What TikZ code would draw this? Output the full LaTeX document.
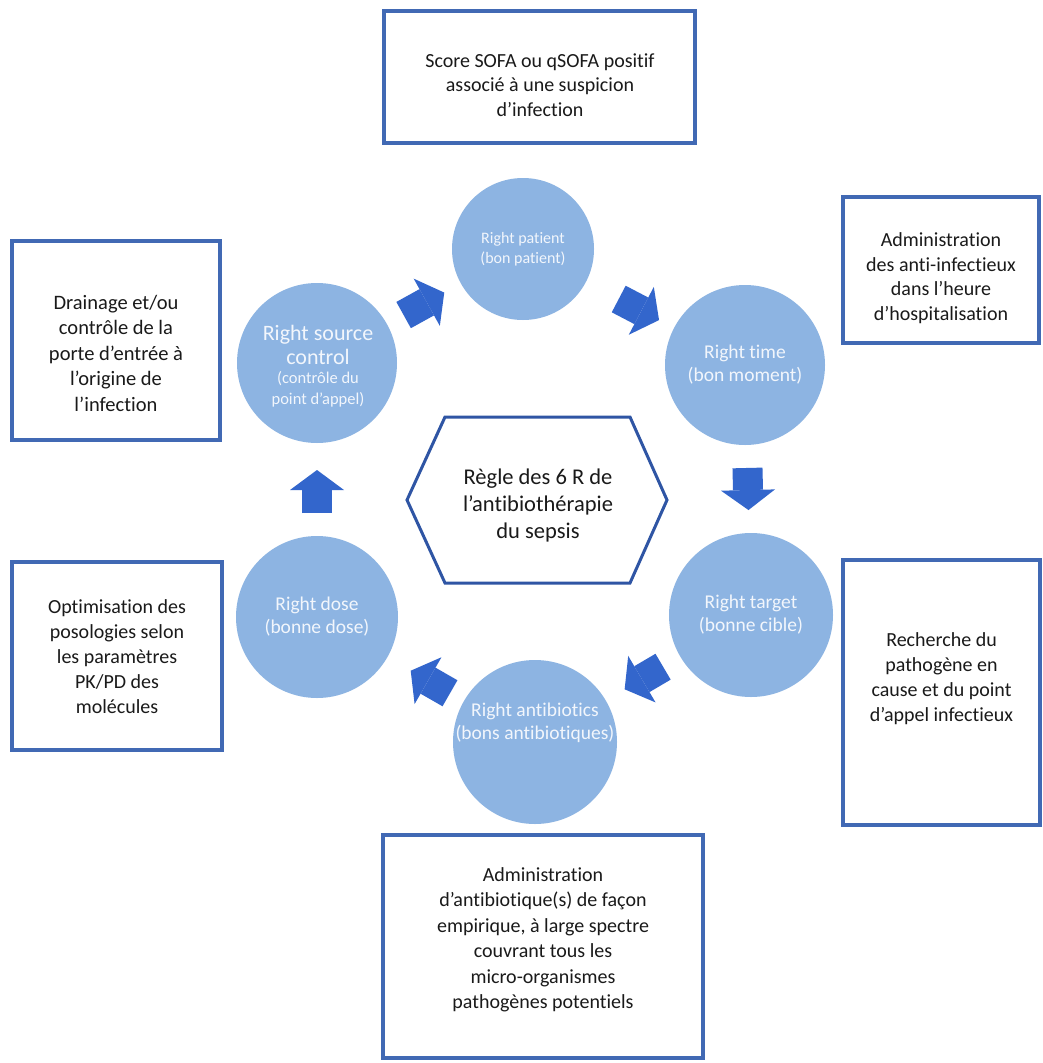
\documentclass[tikz,border=0pt]{standalone}
\usepackage{fontspec}
\setmainfont{Carlito}[Ligatures={TeX,NoCommon}]
\usetikzlibrary{arrows.meta,calc}
\definecolor{circblue}{HTML}{8DB4E2}
\definecolor{arrblue}{HTML}{3366CC}
\definecolor{boxblue}{HTML}{4169B4}
\definecolor{hexblue}{HTML}{2F55A4}
\definecolor{circtext}{HTML}{F2F6FC}
\definecolor{boxtextc}{HTML}{1A1A1A}
\tikzset{
  infobox/.style={draw=boxblue, line width=3.5pt, fill=white, inner sep=0pt},
  boxtext/.style={align=center, text=boxtextc, font=\fontsize{20}{25}\selectfont, inner sep=0pt},
  rcircle/.style={circle, fill=circblue, draw=none, align=center, text=circtext, inner sep=0pt, outer sep=0pt},
  ctext/.style={font=\fontsize{19.5}{23}\selectfont},
  circlabel/.style={align=center, text=circtext, inner sep=0pt},
  flowarrow/.style={draw=arrblue, line width=30pt, -{Triangle[width=54pt,length=20pt,line width=0pt]}},
}
\begin{document}
\begin{tikzpicture}[x=1pt,y=-1pt]
\useasboundingbox (0,0) rectangle (1042,1063);
\fill[white] (0,0) rectangle (1042,1063);

% info boxes
\node[infobox, minimum width=311pt, minimum height=132pt] (btop) at (539.5,77) {};
\node[boxtext, font=\fontsize{20}{24.5}\selectfont] (ttop) at (540,85) {Score SOFA ou qSOFA positif\\associé à une suspicion\\d’infection};

\node[infobox, minimum width=208pt, minimum height=199pt] (bleft) at (116,340.5) {};
\node[boxtext, font=\fontsize{20.5}{25.5}\selectfont] (tleft) at (116,353) {Drainage et/ou\\contrôle de la\\porte d’entrée à\\l’origine de\\l’infection};

\node[infobox, minimum width=196pt, minimum height=146pt] (bright) at (941,270) {};
\node[boxtext, font=\fontsize{20}{24.5}\selectfont] (tright) at (941,278) {Administration\\des anti-infectieux\\dans l’heure\\d’hospitalisation};

\node[infobox, minimum width=197pt, minimum height=265pt] (brbot) at (941.5,692.5) {};
\node[boxtext] (trbot) at (941.5,679) {Recherche du\\pathogène en\\cause et du point\\d’appel infectieux};

\node[infobox, minimum width=210pt, minimum height=188pt] (blbot) at (117,656) {};
\node[boxtext] (tlbot) at (117,657) {Optimisation des\\posologies selon\\les paramètres\\PK/PD des\\molécules};

\node[infobox, minimum width=320pt, minimum height=223pt] (bbot) at (543,946.5) {};
\node[boxtext, font=\fontsize{20}{25.5}\selectfont] (tbot) at (543,940) {Administration\\d’antibiotique(s) de façon\\empirique, à large spectre\\couvrant tous les\\micro-organismes\\pathogènes potentiels};

% circles
\node[rcircle, minimum size=142pt, font=\fontsize{16}{20}\selectfont] (patient) at (523,249) {Right patient\\(bon patient)};
\node[rcircle, minimum size=160pt, ctext] (time) at (745,365) {Right time\\(bon moment)};
\node[rcircle, minimum size=164pt, ctext] (target) at (751,615) {Right target\\(bonne cible)};
\node[rcircle, minimum size=164pt] (antib) at (535,742) {};
\node[circlabel, font=\fontsize{19.5}{22.5}\selectfont] (antibtext) at (535,723) {Right antibiotics\\(bons antibiotiques)};
\node[rcircle, minimum size=162pt, ctext] (dose) at (317,617) {Right dose\\(bonne dose)};
\node[rcircle, minimum size=160pt] (source) at (317,363) {};
\node[circlabel, font=\fontsize{22}{24}\selectfont] (sourcetext) at (318,366)
  {Right source\\control\\[-5pt]\fontsize{16.5}{19}\selectfont (contrôle du\\[-3pt]\fontsize{16.5}{19}\selectfont point d’appel)};

% hexagon
\draw[hexblue, line width=3pt, fill=white] (407,500) -- (445,417) -- (630,417) -- (667,500) -- (630,583) -- (445,583) -- cycle;
\node[align=center, inner sep=0pt, font=\fontsize{22.5}{27}\selectfont, text=boxtextc] (hex) at (538,505) {Règle des 6 R de\\l’antibiothérapie\\du sepsis};

% block arrows
\draw[flowarrow, shorten <=19pt, shorten >=19pt] (source) -- (patient);
\draw[flowarrow, shorten <=37pt, shorten >=17pt] (patient) -- (time);
\draw[flowarrow, shorten <=23pt, shorten >=23pt] (time) -- (target);
\draw[flowarrow, shorten <=20pt, shorten >=22pt] (target) -- (antib);
\draw[flowarrow, shorten <=16pt, shorten >=27pt] (antib) -- (dose);
\draw[flowarrow, shorten <=23pt, shorten >=27pt] (dose) -- (source);
\end{tikzpicture}
\end{document}
